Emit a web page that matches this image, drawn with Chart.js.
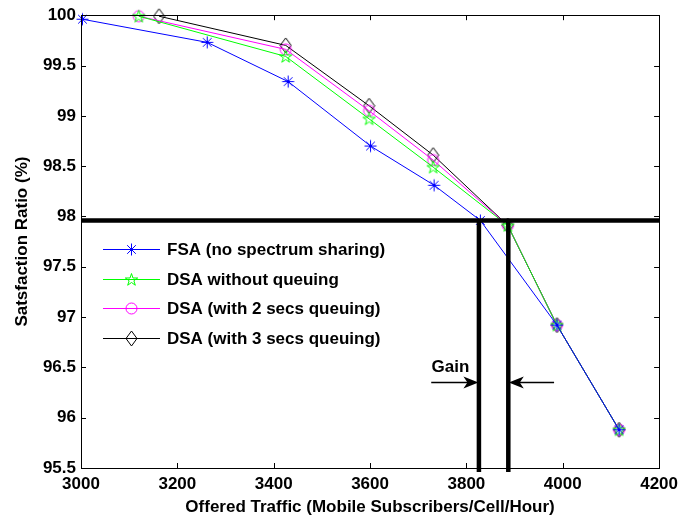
<!DOCTYPE html>
<html>
<head>
<meta charset="utf-8">
<title>Satisfaction ratio vs offered traffic</title>
<script src="https://cdn.jsdelivr.net/npm/chart.js@4/dist/chart.umd.min.js"></script>
<style>
  html, body { margin: 0; padding: 0; background: #fff; }
  #wrap { width: 684px; height: 523px; }
</style>
</head>
<body>
<div id="wrap"><canvas id="chart" width="684" height="523"></canvas></div>
<script>
  'use strict';

  // Offered traffic (x) and satisfaction ratio (y) per scheme.
  var fsaTraffic  = [3003, 3262, 3430, 3601, 3733, 3829, 3988, 4117];
  var fsaRatio    = [99.96, 99.73, 99.34, 98.70, 98.31, 97.96, 96.92, 95.88];

  var dsaTraffic  = [3120, 3425, 3598, 3731, 3886, 3988, 4117];
  var dsaRatio    = [99.99, 99.59, 98.97, 98.49, 97.91, 96.92, 95.88];
  var dsa2Ratio   = [99.99, 99.66, 99.05, 98.56, 97.91, 96.92, 95.88];

  var dsa3Traffic = [3162, 3425, 3598, 3731, 3886, 3988, 4117];
  var dsa3Ratio   = [99.99, 99.70, 99.10, 98.61, 97.91, 96.92, 95.88];

  var seriesNames = [
    'FSA (no spectrum sharing)',
    'DSA without queuing',
    'DSA (with 2 secs queuing)',
    'DSA (with 3 secs queuing)'
  ];

  // Target ratio and the traffic each scheme reaches at that ratio.
  var targetRatio = 97.96;
  var gainTraffic = [3826, 3887];
  var gainArrowTail = [3727, 3982];
  var gainArrowRatio = 96.35;
  var gainLabel = { text: 'Gain', x: 3767, y: 96.5 };

  var FAMILY = '"Liberation Sans", Arial, sans-serif';
  var FONT = 'bold 17px ' + FAMILY;

  function toPoints(xs, ys) {
    return xs.map(function (x, i) { return { x: x, y: ys[i] }; });
  }

  // Marker sprites, used for the plotted points and the legend alike.
  function makeMarker(kind, color) {
    var c = document.createElement('canvas');
    var w = 15, h = 15;
    if (kind === 'diamond') { w = 13; h = 17; }
    c.width = w; c.height = h;
    var g = c.getContext('2d');
    var cx = w / 2, cy = h / 2;
    g.strokeStyle = color;
    g.lineWidth = 1;
    g.beginPath();
    if (kind === 'asterisk') {
      var r = 6, d = r * 0.72;
      g.moveTo(cx - r, cy); g.lineTo(cx + r, cy);
      g.moveTo(cx, cy - r); g.lineTo(cx, cy + r);
      g.moveTo(cx - d, cy - d); g.lineTo(cx + d, cy + d);
      g.moveTo(cx - d, cy + d); g.lineTo(cx + d, cy - d);
    } else if (kind === 'pentagram') {
      var ro = 6.5, ri = ro * 0.382;
      for (var k = 0; k < 10; k++) {
        var a = -Math.PI / 2 + k * Math.PI / 5;
        var rr = k % 2 ? ri : ro;
        var px = cx + rr * Math.cos(a), py = cy + 0.5 + rr * Math.sin(a);
        if (k === 0) g.moveTo(px, py); else g.lineTo(px, py);
      }
      g.closePath();
    } else if (kind === 'circle') {
      g.arc(cx, cy, 5.5, 0, Math.PI * 2);
    } else if (kind === 'diamond') {
      g.moveTo(cx, 1); g.lineTo(w - 1, cy); g.lineTo(cx, h - 1); g.lineTo(1, cy);
      g.closePath();
    }
    g.stroke();
    return c;
  }

  var colors  = ['#0000ff', '#00ff00', '#ff00ff', '#000000'];
  var markers = [
    makeMarker('asterisk', colors[0]),
    makeMarker('pentagram', colors[1]),
    makeMarker('circle', colors[2]),
    makeMarker('diamond', colors[3])
  ];

  function series(i, xs, ys) {
    return {
      label: seriesNames[i],
      data: toPoints(xs, ys),
      borderColor: colors[i],
      backgroundColor: colors[i],
      borderWidth: 1,
      pointStyle: markers[i],
      pointRadius: 6,
      pointHoverRadius: 6,
      tension: 0,
      clip: false
    };
  }

  // Box around the plot area with inward ticks on all four sides.
  var framePlugin = {
    id: 'frame',
    afterDatasetsDraw: function (chart) {
      var ctx = chart.ctx, a = chart.chartArea;
      var xs = chart.scales.x, ys = chart.scales.y;
      var len = 5;
      ctx.save();
      ctx.strokeStyle = '#000';
      ctx.lineWidth = 1;
      ctx.beginPath();
      xs.ticks.forEach(function (t) {
        var px = Math.round(xs.getPixelForValue(t.value)) + 0.5;
        ctx.moveTo(px, a.bottom); ctx.lineTo(px, a.bottom - len);
        ctx.moveTo(px, a.top); ctx.lineTo(px, a.top + len);
      });
      ys.ticks.forEach(function (t) {
        var py = Math.round(ys.getPixelForValue(t.value)) + 0.5;
        ctx.moveTo(a.left, py); ctx.lineTo(a.left + len, py);
        ctx.moveTo(a.right, py); ctx.lineTo(a.right - len, py);
      });
      ctx.stroke();
      ctx.strokeRect(Math.round(a.left) + 0.5, Math.round(a.top) + 0.5,
        Math.round(a.right - a.left), Math.round(a.bottom - a.top));
      ctx.restore();
    }
  };

  // Target line, the two crossing markers and the "Gain" arrows.
  var gainPlugin = {
    id: 'gain',
    afterDatasetsDraw: function (chart) {
      var ctx = chart.ctx, a = chart.chartArea;
      var xs = chart.scales.x, ys = chart.scales.y;
      var yT = ys.getPixelForValue(targetRatio);
      ctx.save();
      ctx.strokeStyle = '#000';
      ctx.lineWidth = 4.5;
      ctx.beginPath();
      ctx.moveTo(a.left, yT); ctx.lineTo(a.right, yT);
      gainTraffic.forEach(function (v) {
        var px = xs.getPixelForValue(v);
        ctx.moveTo(px, yT); ctx.lineTo(px, a.bottom + 4);
      });
      ctx.stroke();

      var yA = ys.getPixelForValue(gainArrowRatio);
      function arrow(fromV, toV) {
        var x0 = xs.getPixelForValue(fromV), x1 = xs.getPixelForValue(toV);
        var dir = x1 > x0 ? 1 : -1;
        ctx.lineWidth = 1.5;
        ctx.beginPath();
        ctx.moveTo(x0, yA); ctx.lineTo(x1 - dir * 6, yA);
        ctx.stroke();
        ctx.beginPath();
        ctx.moveTo(x1, yA);
        ctx.lineTo(x1 - dir * 15, yA - 6);
        ctx.lineTo(x1 - dir * 11, yA);
        ctx.lineTo(x1 - dir * 15, yA + 6);
        ctx.closePath();
        ctx.fill();
      }
      ctx.fillStyle = '#000';
      arrow(gainArrowTail[0], gainTraffic[0] - 1);
      arrow(gainArrowTail[1], gainTraffic[1] + 1);

      ctx.font = FONT;
      ctx.textAlign = 'center';
      ctx.textBaseline = 'middle';
      ctx.fillText(gainLabel.text, xs.getPixelForValue(gainLabel.x), ys.getPixelForValue(gainLabel.y));
      ctx.restore();
    }
  };

  // Legend with a line sample and marker per series.
  var legendPlugin = {
    id: 'lineLegend',
    afterDraw: function (chart) {
      var ctx = chart.ctx;
      var x0 = 103, x1 = 160, tx = 167, y0 = 249, step = 29.7;
      ctx.save();
      ctx.font = FONT;
      ctx.textBaseline = 'middle';
      ctx.textAlign = 'left';
      chart.data.datasets.forEach(function (ds, i) {
        var y = Math.round(y0 + i * step) + 0.5;
        ctx.strokeStyle = ds.borderColor;
        ctx.lineWidth = 1;
        ctx.beginPath();
        ctx.moveTo(x0, y); ctx.lineTo(x1, y);
        ctx.stroke();
        var m = markers[i];
        ctx.drawImage(m, Math.round((x0 + x1) / 2 - m.width / 2), Math.round(y - m.height / 2));
        ctx.fillStyle = '#000';
        ctx.fillText(ds.label, tx, y + 1);
      });
      ctx.restore();
    }
  };

  new Chart(document.getElementById('chart'), {
    type: 'line',
    data: {
      datasets: [
        series(0, fsaTraffic, fsaRatio),
        series(1, dsaTraffic, dsaRatio),
        series(2, dsaTraffic, dsa2Ratio),
        series(3, dsa3Traffic, dsa3Ratio)
      ]
    },
    options: {
      responsive: false,
      animation: false,
      layout: { padding: { top: 15, right: 24, bottom: 0, left: 0 } },
      plugins: {
        legend: { display: false },
        tooltip: { enabled: false }
      },
      scales: {
        x: {
          type: 'linear',
          min: 3000,
          max: 4200,
          afterFit: function (s) { s.height = 55; },
          ticks: {
            stepSize: 200,
            color: '#000',
            font: { family: FAMILY, size: 17, weight: 'bold' },
            padding: 6,
            maxRotation: 0,
            callback: function (v) { return String(v); }
          },
          grid: { display: false, drawTicks: false },
          border: { display: false },
          title: {
            display: true,
            text: 'Offered Traffic (Mobile Subscribers/Cell/Hour)',
            color: '#000',
            font: { family: FAMILY, size: 17, weight: 'bold' },
            padding: { top: 0, bottom: 5 }
          }
        },
        y: {
          type: 'linear',
          min: 95.5,
          max: 100,
          afterFit: function (s) { s.width = 81; },
          ticks: {
            stepSize: 0.5,
            color: '#000',
            font: { family: FAMILY, size: 17, weight: 'bold' },
            padding: 5,
            callback: function (v) { return String(Math.round(v * 10) / 10); }
          },
          grid: { display: false, drawTicks: false },
          border: { display: false },
          title: {
            display: true,
            text: 'Satsfaction Ratio (%)',
            color: '#000',
            font: { family: FAMILY, size: 17, weight: 'bold' },
            padding: { top: 12, bottom: 0 }
          }
        }
      }
    },
    plugins: [framePlugin, gainPlugin, legendPlugin]
  });
</script>
</body>
</html>
